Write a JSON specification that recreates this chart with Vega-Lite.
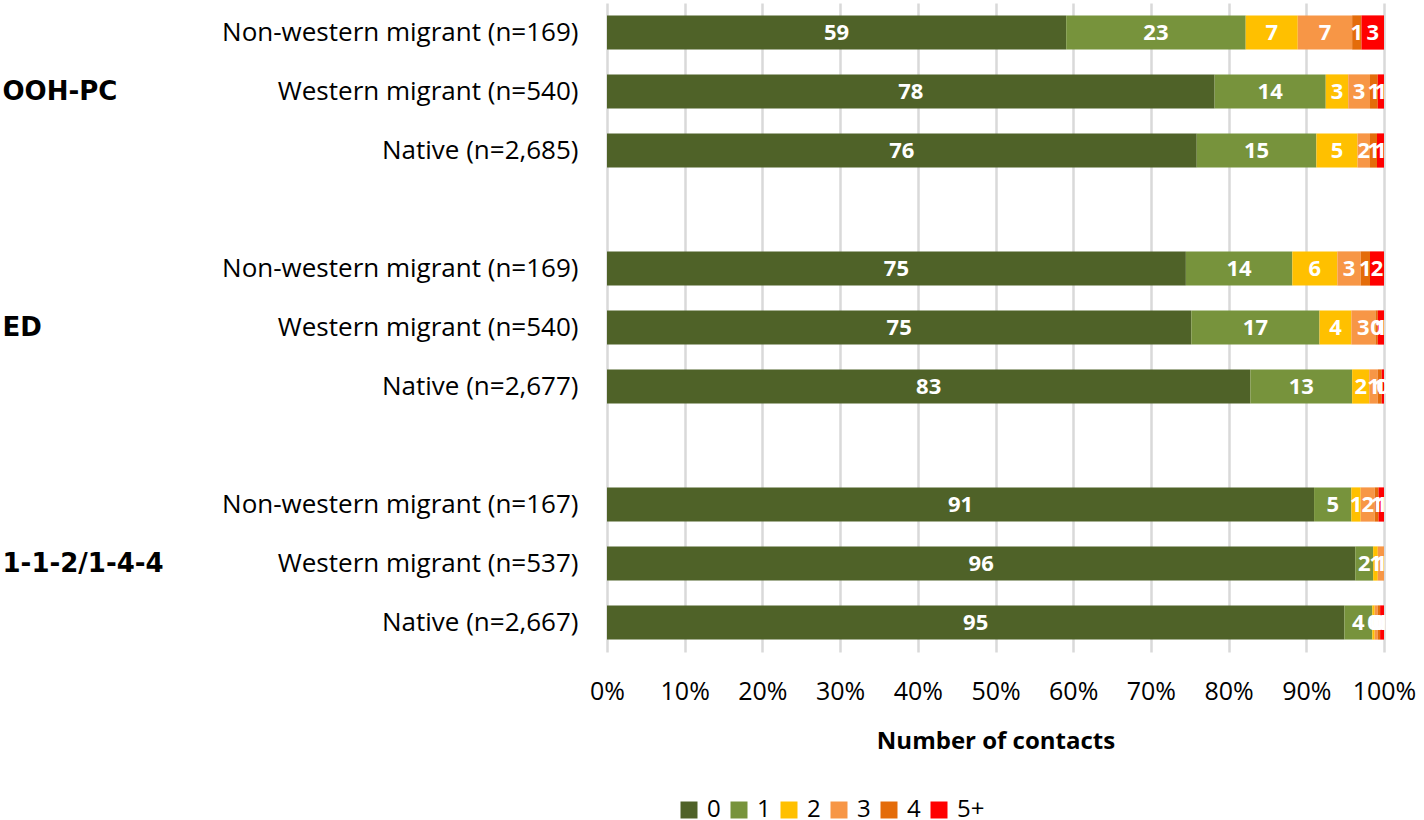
{
  "$schema": "https://vega.github.io/schema/vega-lite/v6.json",
  "width": 777,
  "height": 649,
  "padding": {"left": 2, "top": 3, "right": 0, "bottom": 0},
  "background": "white",
  "config": {
    "view": {"stroke": null},
    "font": "Open Sans"
  },
  "data": {
    "values": [
      {"row": "OOH-PC|Non-western migrant (n=169)", "contacts": "0", "pct": 59.1},
      {"row": "OOH-PC|Non-western migrant (n=169)", "contacts": "1", "pct": 23.1},
      {"row": "OOH-PC|Non-western migrant (n=169)", "contacts": "2", "pct": 6.7},
      {"row": "OOH-PC|Non-western migrant (n=169)", "contacts": "3", "pct": 7.0},
      {"row": "OOH-PC|Non-western migrant (n=169)", "contacts": "4", "pct": 1.2},
      {"row": "OOH-PC|Non-western migrant (n=169)", "contacts": "5+", "pct": 2.9},
      {"row": "OOH-PC|Western migrant (n=540)", "contacts": "0", "pct": 78.2},
      {"row": "OOH-PC|Western migrant (n=540)", "contacts": "1", "pct": 14.3},
      {"row": "OOH-PC|Western migrant (n=540)", "contacts": "2", "pct": 2.9},
      {"row": "OOH-PC|Western migrant (n=540)", "contacts": "3", "pct": 2.8},
      {"row": "OOH-PC|Western migrant (n=540)", "contacts": "4", "pct": 1.0},
      {"row": "OOH-PC|Western migrant (n=540)", "contacts": "5+", "pct": 0.8},
      {"row": "OOH-PC|Native (n=2,685)", "contacts": "0", "pct": 75.9},
      {"row": "OOH-PC|Native (n=2,685)", "contacts": "1", "pct": 15.4},
      {"row": "OOH-PC|Native (n=2,685)", "contacts": "2", "pct": 5.3},
      {"row": "OOH-PC|Native (n=2,685)", "contacts": "3", "pct": 1.6},
      {"row": "OOH-PC|Native (n=2,685)", "contacts": "4", "pct": 0.9},
      {"row": "OOH-PC|Native (n=2,685)", "contacts": "5+", "pct": 0.9},
      {"row": "ED|Non-western migrant (n=169)", "contacts": "0", "pct": 74.5},
      {"row": "ED|Non-western migrant (n=169)", "contacts": "1", "pct": 13.7},
      {"row": "ED|Non-western migrant (n=169)", "contacts": "2", "pct": 5.8},
      {"row": "ED|Non-western migrant (n=169)", "contacts": "3", "pct": 3.0},
      {"row": "ED|Non-western migrant (n=169)", "contacts": "4", "pct": 1.2},
      {"row": "ED|Non-western migrant (n=169)", "contacts": "5+", "pct": 1.8},
      {"row": "ED|Western migrant (n=540)", "contacts": "0", "pct": 75.2},
      {"row": "ED|Western migrant (n=540)", "contacts": "1", "pct": 16.5},
      {"row": "ED|Western migrant (n=540)", "contacts": "2", "pct": 4.1},
      {"row": "ED|Western migrant (n=540)", "contacts": "3", "pct": 3.1},
      {"row": "ED|Western migrant (n=540)", "contacts": "4", "pct": 0.3},
      {"row": "ED|Western migrant (n=540)", "contacts": "5+", "pct": 0.8},
      {"row": "ED|Native (n=2,677)", "contacts": "0", "pct": 82.8},
      {"row": "ED|Native (n=2,677)", "contacts": "1", "pct": 13.1},
      {"row": "ED|Native (n=2,677)", "contacts": "2", "pct": 2.2},
      {"row": "ED|Native (n=2,677)", "contacts": "3", "pct": 1.1},
      {"row": "ED|Native (n=2,677)", "contacts": "4", "pct": 0.5},
      {"row": "ED|Native (n=2,677)", "contacts": "5+", "pct": 0.3},
      {"row": "1-1-2/1-4-4|Non-western migrant (n=167)", "contacts": "0", "pct": 91.0},
      {"row": "1-1-2/1-4-4|Non-western migrant (n=167)", "contacts": "1", "pct": 4.8},
      {"row": "1-1-2/1-4-4|Non-western migrant (n=167)", "contacts": "2", "pct": 1.2},
      {"row": "1-1-2/1-4-4|Non-western migrant (n=167)", "contacts": "3", "pct": 1.8},
      {"row": "1-1-2/1-4-4|Non-western migrant (n=167)", "contacts": "4", "pct": 0.5},
      {"row": "1-1-2/1-4-4|Non-western migrant (n=167)", "contacts": "5+", "pct": 0.7},
      {"row": "1-1-2/1-4-4|Western migrant (n=537)", "contacts": "0", "pct": 96.3},
      {"row": "1-1-2/1-4-4|Western migrant (n=537)", "contacts": "1", "pct": 2.3},
      {"row": "1-1-2/1-4-4|Western migrant (n=537)", "contacts": "2", "pct": 0.6},
      {"row": "1-1-2/1-4-4|Western migrant (n=537)", "contacts": "3", "pct": 0.8},
      {"row": "1-1-2/1-4-4|Native (n=2,667)", "contacts": "0", "pct": 94.9},
      {"row": "1-1-2/1-4-4|Native (n=2,667)", "contacts": "1", "pct": 3.6},
      {"row": "1-1-2/1-4-4|Native (n=2,667)", "contacts": "2", "pct": 0.3},
      {"row": "1-1-2/1-4-4|Native (n=2,667)", "contacts": "3", "pct": 0.4},
      {"row": "1-1-2/1-4-4|Native (n=2,667)", "contacts": "4", "pct": 0.3},
      {"row": "1-1-2/1-4-4|Native (n=2,667)", "contacts": "5+", "pct": 0.5}
    ]
  },
  "layer": [
    {
      "layer": [
        {
          "mark": {"type": "bar"},
          "encoding": {
            "y": {
              "field": "row", "type": "nominal",
              "scale": {
                "domain": [
                  "OOH-PC|Non-western migrant (n=169)", "OOH-PC|Western migrant (n=540)", "OOH-PC|Native (n=2,685)", "gap1",
                  "ED|Non-western migrant (n=169)", "ED|Western migrant (n=540)", "ED|Native (n=2,677)", "gap2",
                  "1-1-2/1-4-4|Non-western migrant (n=167)", "1-1-2/1-4-4|Western migrant (n=537)", "1-1-2/1-4-4|Native (n=2,667)"
                ],
                "paddingInner": 0.42, "paddingOuter": 0.21
              },
              "axis": {
                "title": null, "orient": "left", "domain": false, "ticks": false, "tickSize": 0, "grid": false,
                "labelPadding": 29, "labelFont": "Open Sans", "labelFontSize": 26, "labelColor": "#000000", "labelLimit": 0,
                "labelExpr": "indexof(datum.value,'|') < 0 ? '' : slice(datum.value, indexof(datum.value,'|') + 1)"
              }
            },
            "x": {
              "field": "pct", "type": "quantitative", "stack": "normalize",
              "scale": {"domain": [0, 1], "nice": false},
              "axis": {
                "title": "Number of contacts", "values": [0, 0.1, 0.2, 0.3, 0.4, 0.5, 0.6, 0.7, 0.8, 0.9, 1.0],
                "format": ".0%", "domain": false, "ticks": false, "grid": true, "gridColor": "#D9D9D9", "gridWidth": 2.5,
                "labelOverlap": false, "labelFlush": false,
                "labelFont": "Open Sans", "labelFontSize": 25, "labelColor": "#000000", "labelPadding": 27,
                "titleFont": "Open Sans", "titleFontSize": 24, "titleFontWeight": "bold", "titleColor": "#000000", "titlePadding": 25
              }
            },
            "color": {
              "field": "contacts", "type": "nominal",
              "scale": {"domain": ["0", "1", "2", "3", "4", "5+"], "range": ["#4F6228", "#77933C", "#FFC000", "#F79646", "#E46C0A", "#FF0000"]},
              "legend": {
                "title": null, "orient": "none", "direction": "horizontal", "legendX": 70, "legendY": 795,
                "symbolType": "square", "symbolSize": 289, "symbolStrokeWidth": 0, "symbolOpacity": 1,
                "labelFont": "Open Sans", "labelFontSize": 24, "labelColor": "#000000", "labelOffset": 6, "columnPadding": 6
              }
            },
            "order": {"field": "contacts", "sort": "ascending"}
          }
        },
        {
          "mark": {"type": "text", "color": "white", "font": "Open Sans", "fontWeight": "bold", "fontSize": 22, "baseline": "middle", "align": "center"},
          "encoding": {
            "y": {"field": "row", "type": "nominal"},
            "x": {"field": "pct", "type": "quantitative", "stack": "normalize", "bandPosition": 0.5},
            "detail": {"field": "contacts", "type": "nominal"},
            "order": {"field": "contacts", "sort": "ascending"},
            "text": {"field": "pct", "type": "quantitative", "format": ".0f"}
          }
        }
      ]
    },
    {
      "mark": {"type": "text", "text": "", "opacity": 0},
      "encoding": {
        "y": {
          "field": "row", "type": "nominal",
          "scale": {
            "domain": [
              "OOH-PC|Non-western migrant (n=169)", "OOH-PC|Western migrant (n=540)", "OOH-PC|Native (n=2,685)", "gap1",
              "ED|Non-western migrant (n=169)", "ED|Western migrant (n=540)", "ED|Native (n=2,677)", "gap2",
              "1-1-2/1-4-4|Non-western migrant (n=167)", "1-1-2/1-4-4|Western migrant (n=537)", "1-1-2/1-4-4|Native (n=2,667)"
            ],
            "paddingInner": 0.42, "paddingOuter": 0.21
          },
          "axis": {
            "title": null, "orient": "left", "domain": false, "ticks": false, "tickSize": 0, "grid": false,
            "offset": 600, "labelPadding": 5, "labelAlign": "left", "labelLimit": 0,
            "labelFont": "DejaVu Sans", "labelFontWeight": "bold", "labelFontSize": 26, "labelColor": "#000000",
            "labelExpr": "indexof(datum.value,'|Western') > 0 ? slice(datum.value, 0, indexof(datum.value,'|')) : ''"
          }
        }
      }
    }
  ],
  "resolve": {"scale": {"y": "independent"}}
}
